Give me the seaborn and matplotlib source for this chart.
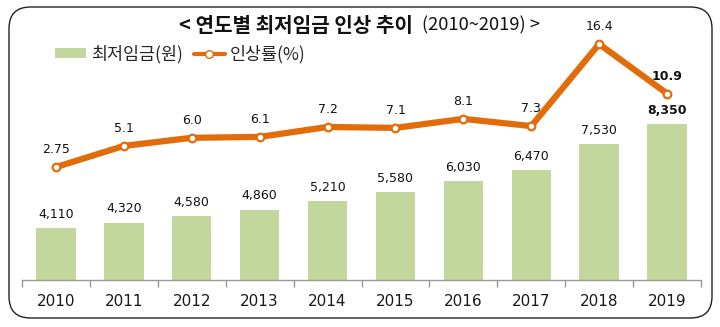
import numpy as np
import pandas as pd
import matplotlib
matplotlib.use("Agg")
import matplotlib.pyplot as plt
from matplotlib.patches import FancyBboxPatch, Patch
from matplotlib.lines import Line2D
import seaborn as sns

years = ["2010", "2011", "2012", "2013", "2014", "2015", "2016", "2017", "2018", "2019"]
wages = [4110, 4320, 4580, 4860, 5210, 5580, 6030, 6470, 7530, 8350]
rates = [2.75, 5.1, 6.0, 6.1, 7.2, 7.1, 8.1, 7.3, 16.4, 10.9]
rate_labels = ["2.75", "5.1", "6.0", "6.1", "7.2", "7.1", "8.1", "7.3", "16.4", "10.9"]
title_main = "< 연도별 최저임금 인상 추이"
title_rest = "(2010~2019) >"
legend_bar = "최저임금(원)"
legend_line = "인상률(%)"

sns.set_theme(style="white")
plt.rcParams['font.family'] = ['DejaVu Sans', 'Noto Sans CJK KR']
KR = ['Noto Sans CJK KR', 'DejaVu Sans']

W, H = 720, 327
fig = plt.figure(figsize=(W / 100, H / 100), dpi=100)
ax = fig.add_axes([22 / W, 1 - 280 / H, (701 - 22) / W, (280 - 35) / H])

df = pd.DataFrame({"year": years, "wage": wages, "rate": rates})
green = "#C3D69B"
orange = "#E36C0A"

sns.barplot(data=df, x="year", y="wage", color=green, width=0.58, ax=ax,
            saturation=1, edgecolor="none")
ax.set_ylim(1990, 11980)

ax2 = ax.twinx()
sns.pointplot(data=df, x="year", y="rate", color=orange, ax=ax2,
              markers="o", linestyles="-", linewidth=4.5,
              markersize=5.5, markerfacecolor="white",
              markeredgecolor=orange, markeredgewidth=1.6)
ax2.set_ylim(-9.77, 17.4)
ax.set_xlim(-0.5, 9.5)
ax2.set_xlim(-0.5, 9.5)

for i, (w, r, rl) in enumerate(zip(wages, rates, rate_labels)):
    bold = "bold" if i == len(years) - 1 else "normal"
    ax.annotate(f"{w:,}", (i, w), xytext=(0, 10), textcoords="offset points",
                ha="center", va="center", fontsize=9, color="#111111",
                fontweight=bold)
    ax2.annotate(rl, (i, r), xytext=(0, 12.5), textcoords="offset points",
                 ha="center", va="center", fontsize=9, color="#111111",
                 fontweight=bold)

for a in (ax, ax2):
    for s in a.spines.values():
        s.set_visible(False)
    a.set_yticks([])
    a.set_ylabel("")
    a.set_xlabel("")
ax.spines["bottom"].set_visible(True)
ax.spines["bottom"].set_color("#999999")
ax.spines["bottom"].set_linewidth(1.0)
ax.set_xticks(range(len(years)))
ax.set_xticklabels(years)
ax.set_xticks(np.arange(-0.5, len(years), 1), minor=True)
ax.tick_params(axis="x", which="major", length=0, pad=10, labelsize=11,
               labelcolor="#1a1a1a")
ax.tick_params(axis="x", which="minor", length=5, width=1, color="#999999",
               direction="out", bottom=True)
ax2.tick_params(axis="x", which="both", length=0, labelbottom=False)

# title
fig.text(413 / W, 1 - 25 / H, title_main, ha="right", va="center",
         fontsize=14.5, fontweight="bold", family=KR, color="#111111")
fig.text(422 / W, 1 - 25 / H, title_rest, ha="left", va="center",
         fontsize=13.2, family=KR, color="#111111")

# legend
handles = [Patch(facecolor=green, edgecolor="none"),
           Line2D([], [], color=orange, lw=3, marker="o", markersize=5.5,
                  markerfacecolor="white", markeredgecolor=orange)]
leg = fig.legend(handles, [legend_bar, legend_line], loc="center left",
                 bbox_to_anchor=(55 / W, 1 - 54 / H), ncol=2, frameon=False,
                 prop={"family": KR, "size": 12.5}, handlelength=1.8,
                 handleheight=0.5, handletextpad=0.25, columnspacing=0.65,
                 borderpad=0, borderaxespad=0)

# rounded frame
frame = FancyBboxPatch((9 / W, 9 / H), (712 - 9) / W, (319 - 8) / H,
                       boxstyle="round,pad=0,rounding_size=0.03",
                       transform=fig.transFigure, fill=False,
                       edgecolor="#222222", linewidth=1.0,
                       mutation_aspect=W / H)
fig.patches.append(frame)

fig.savefig("out.png", dpi=100)
